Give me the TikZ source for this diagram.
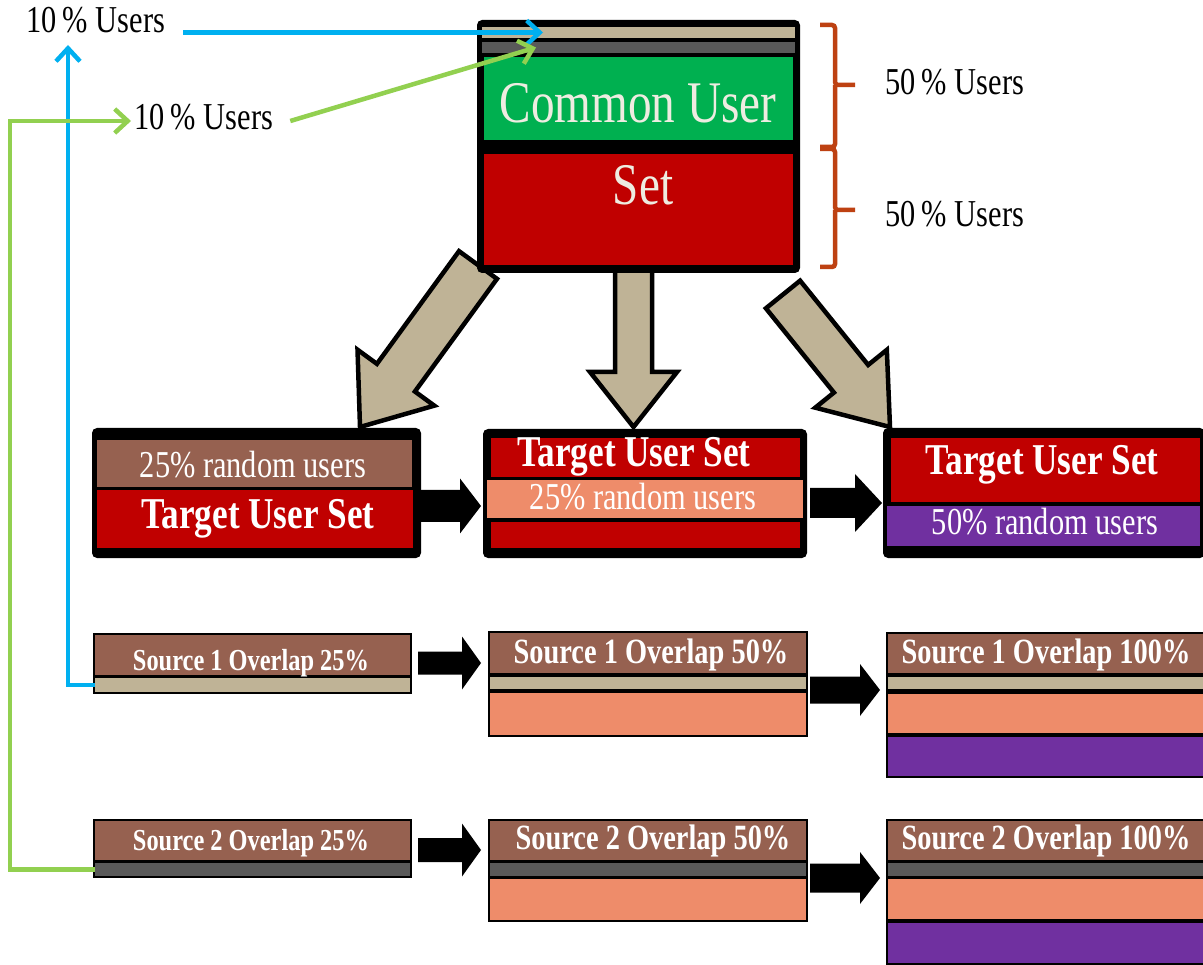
\documentclass[tikz,border=0pt]{standalone}
\usepackage{fontspec}
\setmainfont{Liberation Serif}[FakeStretch=0.8]
\usetikzlibrary{calc,arrows.meta}

\definecolor{cRed}{RGB}{192,0,0}
\definecolor{cGreen}{RGB}{0,176,80}
\definecolor{cTan}{RGB}{191,179,150}
\definecolor{cGray}{RGB}{89,89,89}
\definecolor{cBrown}{RGB}{150,97,80}
\definecolor{cSalmon}{RGB}{238,140,106}
\definecolor{cPurple}{RGB}{112,48,160}
\definecolor{cCream}{RGB}{238,236,225}
\definecolor{cBlue}{RGB}{0,176,240}
\definecolor{cLime}{RGB}{146,208,80}
\definecolor{cRust}{RGB}{190,65,18}

% a filled band given by its corners: name, x1, y1, x2, y2, style
\newcommand\slab[6]{\node[slabst,#6,minimum width={(#4-#2)*1pt},minimum height={(#5-#3)*1pt}] (#1) at ({(#2+#4)/2},{(#3+#5)/2}) {};}

% block arrow: [style]{tail}{tip}{shaft half width}{head half width}{head length}
\newcommand\blockarrow[6][]{%
  \coordinate (ba-h) at ($(#3)!#6!(#2)$);
  \path[#1] ($(#2)!#4!90:(#3)$) -- ($(ba-h)!#4!90:(#3)$) -- ($(ba-h)!#5!90:(#3)$) -- (#3)
    -- ($(ba-h)!#5!-90:(#3)$) -- ($(ba-h)!#4!-90:(#3)$) -- ($(#2)!#4!-90:(#3)$) -- cycle;}

\tikzset{
  slabst/.style={inner sep=0pt, outer sep=0pt},
  boxframe/.style={fill=black, rounded corners=5pt},
  srcframe/.style={fill=black},
  tanarrow/.style={fill=cTan, draw=black, line width=4.5pt, line join=miter},
  blkarrow/.style={fill=black},
  wtxt/.style={inner sep=0pt, anchor=base, text=white},
  bigtxt/.style={wtxt, text=cCream, font=\fontsize{59}{60}\selectfont},
  tus/.style={wtxt, font=\bfseries\fontsize{44}{46}\selectfont},
  rnd/.style={wtxt, font=\fontsize{38}{40}\selectfont},
  srcS/.style={wtxt, font=\bfseries\fontsize{30.5}{32}\selectfont},
  srcL/.style={wtxt, font=\bfseries\fontsize{35.5}{37}\selectfont},
  lbl/.style={inner sep=0pt, anchor=base west, text=black, font=\fontsize{38}{40}\selectfont},
  bluec/.style={draw=cBlue, line width=4.5pt, -{Straight Barb[length=13pt,width=24pt]}},
  greenc/.style={draw=cLime, line width=4.5pt, -{Straight Barb[length=13pt,width=24pt]}},
  bracest/.style={draw=cRust, line width=4.5pt, rounded corners=3pt},
}

\begin{document}
\begin{tikzpicture}[x=1pt,y=-1pt]
\useasboundingbox[fill=white] (0,0) rectangle (1203,965);

% tan block arrows from the common set down to the three target sets
\coordinate (la-t) at (478,265);   \coordinate (la-p) at (360,427);
\coordinate (ma-t) at (633.5,265); \coordinate (ma-p) at (633.5,427);
\coordinate (ra-t) at (783,294.5); \coordinate (ra-p) at (890,427);
\blockarrow[tanarrow]{la-t}{la-p}{23.5pt}{47.5pt}{61pt}
\blockarrow[tanarrow]{ma-t}{ma-p}{18.5pt}{43.5pt}{55pt}
\blockarrow[tanarrow]{ra-t}{ra-p}{22pt}{46pt}{62pt}

% common user set
\slab{cus}{477}{20}{800}{273}{boxframe}
\slab{tanT}{482}{27}{795}{38}{fill=cTan}
\slab{grayT}{482}{42}{795}{53}{fill=cGray}
\slab{greenT}{484}{57}{793}{140}{fill=cGreen}
\slab{redT}{484}{154}{793}{265}{fill=cRed}

% target user sets
\slab{boxA}{92}{428}{421}{558}{boxframe}
\slab{aBrown}{97}{440}{412}{487}{fill=cBrown}
\slab{aRed}{97}{490}{413}{548}{fill=cRed}

\slab{boxB}{483}{429}{807}{558}{boxframe}
\slab{bRed1}{491}{438}{800}{477}{fill=cRed}
\slab{bSalmon}{487}{480}{803}{518}{fill=cSalmon}
\slab{bRed2}{491}{522}{800}{548}{fill=cRed}

\slab{boxC}{883}{428}{1205}{558}{boxframe}
\slab{cRed1}{891}{438}{1200}{502}{fill=cRed}
\slab{cPurp}{887}{506}{1200}{546}{fill=cPurple}

% source 1 overlaps
\slab{s1a}{93}{633}{412}{694}{srcframe}
\slab{s1aBrown}{95}{635}{410}{675}{fill=cBrown}
\slab{s1aTan}{95}{678}{410}{692}{fill=cTan}

\slab{s1b}{488}{631}{808}{737}{srcframe}
\slab{s1bBrown}{490}{633}{806}{673}{fill=cBrown}
\slab{s1bTan}{490}{677}{806}{689}{fill=cTan}
\slab{s1bSalmon}{490}{693}{806}{735}{fill=cSalmon}

\slab{s1c}{886}{632}{1205}{778}{srcframe}
\slab{s1cBrown}{888}{634}{1205}{673}{fill=cBrown}
\slab{s1cTan}{888}{677}{1205}{689}{fill=cTan}
\slab{s1cSalmon}{888}{694}{1205}{733}{fill=cSalmon}
\slab{s1cPurp}{888}{737}{1205}{776}{fill=cPurple}

% source 2 overlaps
\slab{s2a}{93}{819}{412}{878}{srcframe}
\slab{s2aBrown}{95}{821}{410}{860}{fill=cBrown}
\slab{s2aGray}{95}{863}{410}{876}{fill=cGray}

\slab{s2b}{488}{819}{808}{922}{srcframe}
\slab{s2bBrown}{490}{821}{806}{860}{fill=cBrown}
\slab{s2bGray}{490}{863}{806}{876}{fill=cGray}
\slab{s2bSalmon}{490}{879}{806}{920}{fill=cSalmon}

\slab{s2c}{886}{819}{1205}{966}{srcframe}
\slab{s2cBrown}{888}{821}{1205}{860}{fill=cBrown}
\slab{s2cGray}{888}{863}{1205}{876}{fill=cGray}
\slab{s2cSalmon}{888}{879}{1205}{919}{fill=cSalmon}
\slab{s2cPurp}{888}{923}{1205}{963}{fill=cPurple}

% black block arrows between stages
\coordinate (ab-t) at ($(boxA.east|-0,506)+(-3,0)$);  \coordinate (ab-p) at ($(boxB.west|-0,506)+(-2,0)$);
\coordinate (bc-t) at ($(boxB.east|-0,503)+(3,0)$);   \coordinate (bc-p) at ($(boxC.west|-0,503)+(-1,0)$);
\coordinate (s1ab-t) at ($(s1a.east|-0,663)+(6,0)$);  \coordinate (s1ab-p) at ($(s1b.west|-0,663)+(-7,0)$);
\coordinate (s2ab-t) at ($(s2a.east|-0,850)+(6,0)$);  \coordinate (s2ab-p) at ($(s2b.west|-0,850)+(-7,0)$);
\coordinate (s1bc-t) at ($(s1b.east|-0,690)+(2,0)$);  \coordinate (s1bc-p) at ($(s1c.west|-0,690)+(-6,0)$);
\coordinate (s2bc-t) at ($(s2b.east|-0,878)+(2,0)$);  \coordinate (s2bc-p) at ($(s2c.west|-0,878)+(-6,0)$);
\blockarrow[blkarrow]{ab-t}{ab-p}{16pt}{27.5pt}{21pt}
\blockarrow[blkarrow]{bc-t}{bc-p}{15pt}{29pt}{27pt}
\blockarrow[blkarrow]{s1ab-t}{s1ab-p}{11.5pt}{26.5pt}{19pt}
\blockarrow[blkarrow]{s2ab-t}{s2ab-p}{12pt}{26.5pt}{19pt}
\blockarrow[blkarrow]{s1bc-t}{s1bc-p}{13.5pt}{26pt}{20pt}
\blockarrow[blkarrow]{s2bc-t}{s2bc-p}{14.5pt}{26pt}{20pt}

% texts in the boxes
\node[bigtxt] (cuTxt) at (638,123) {Common User};
\node[bigtxt] (setTxt) at (643,205) {Set};
\node[rnd] (aRnd) at (253,478) {25\% random users};
\node[tus] (aTus) at (258,529) {Target User Set};
\node[tus] (bTus) at (634,467) {Target User Set};
\node[rnd] (bRnd) at (643,510) {25\% random users};
\node[tus] (cTus) at (1042,475) {Target User Set};
\node[rnd] (cRnd) at (1045,535) {50\% random users};
\node[srcS] (s1aTxt) at (251,670) {Source 1 Overlap 25\%};
\node[srcS] (s2aTxt) at (251,850) {Source 2 Overlap 25\%};
\node[srcL] (s1bTxt) at (651,663) {Source 1 Overlap 50\%};
\node[srcL] (s1cTxt) at (1046,663) {Source 1 Overlap 100\%};
\node[srcL] (s2bTxt) at (653,849) {Source 2 Overlap 50\%};
\node[srcL] (s2cTxt) at (1046,849) {Source 2 Overlap 100\%};

% braces with their shares
\draw[bracest] (820,25) -- (835,25) -- (835,85) -- (855,85);
\draw[bracest] (835,85) -- (835,147) -- (820,147);
\draw[bracest] (820,149) -- (835,149) -- (835,210) -- (855,210);
\draw[bracest] (835,210) -- (835,267) -- (820,267);
\node[lbl] (u1) at (885,95) {50\,\% Users};
\node[lbl] (u2) at (885,227) {50\,\% Users};

% sampled users feeding the common set
\node[lbl] (t1) at (26,33) {10\,\% Users};
\node[lbl] (t2) at (134,130) {10\,\% Users};

\coordinate (bTip) at ([xshift=61pt]tanT.west);
\coordinate (bStart) at (t1.east |- bTip);
\draw[bluec] ([xshift=18pt]bStart) -- (bTip);
\coordinate (bUp) at (68,45);
\draw[bluec] (s1aTan.west) -| (bUp);

\coordinate (gL) at (10,121);
\coordinate (gEnd) at (t2.west |- gL);
\draw[greenc] (s2aGray.west) -| (gL) -- ([xshift=-3pt]gEnd);
\coordinate (gTip) at ([xshift=54pt]grayT.west);
\coordinate (gStart) at (t2.east |- gL);
\draw[greenc] ([xshift=17pt]gStart) -- (gTip);
\end{tikzpicture}
\end{document}
